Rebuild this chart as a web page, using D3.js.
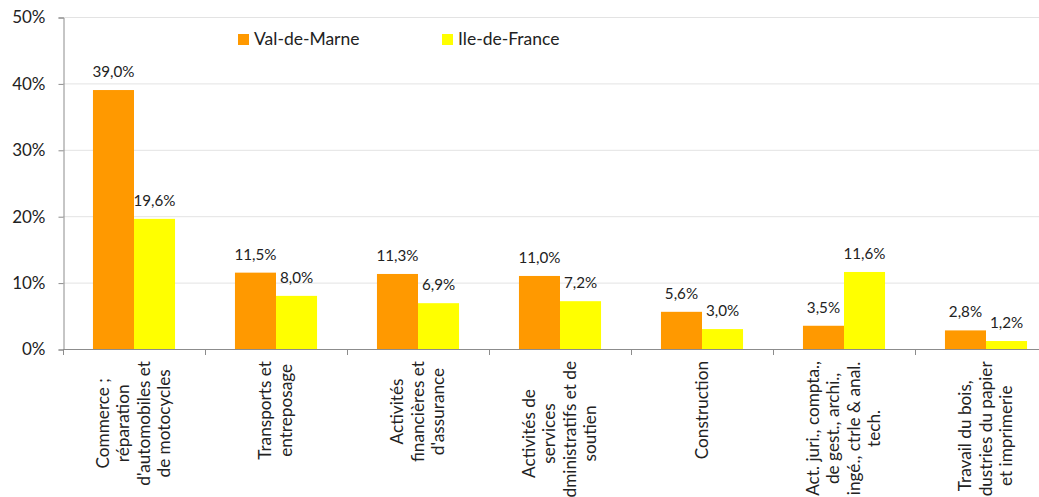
<!DOCTYPE html>
<meta charset="utf-8">
<style>
  body { margin: 0; background: #fff; }
  svg { display: block; font-family: Lato, "Open Sans", sans-serif; }
  text { fill: #222; }
</style>
<body>
<script src="https://cdn.jsdelivr.net/npm/d3@7"></script>
<script>
  var categories = [
    ["Commerce ;", "réparation", "d'automobiles et", "de motocycles"],
    ["Transports et", "entreposage"],
    ["Activités", "financières et", "d'assurance"],
    ["Activités de", "services", "administratifs et de", "soutien"],
    ["Construction"],
    ["Act. juri., compta.,", "de gest., archi.,", "ingé., ctrle & anal.", "tech."],
    ["Travail du bois,", "industries du papier", "et imprimerie"]
  ];
  var seriesNames = ["Val-de-Marne", "Ile-de-France"];
  var valDeMarne = [39.0, 11.5, 11.3, 11.0, 5.6, 3.5, 2.8];
  var ileDeFrance = [19.6, 8.0, 6.9, 7.2, 3.0, 11.6, 1.2];
  var yTicks = [0, 10, 20, 30, 40, 50];
  var colors = ["#ff9900", "#ffff00"];

  var width = 1039, height = 497;
  var plotLeft = 63, plotTop = 17, plotBottom = 349;
  var step = 142;

  var svg = d3.select("body").append("svg")
    .attr("width", width)
    .attr("height", height);

  var x = d3.scaleBand()
    .domain(d3.range(categories.length))
    .range([plotLeft, plotLeft + step * categories.length])
    .padding(0);

  var xs = d3.scaleBand()
    .domain([0, 1])
    .range([0, x.bandwidth()])
    .paddingInner(0)
    .paddingOuter(0.73);

  var y = d3.scaleLinear().domain([0, 50]).range([plotBottom, plotTop]);

  // gridlines
  svg.append("g").selectAll("line")
    .data(yTicks.filter(function(d) { return d > 0; }))
    .join("line")
    .attr("x1", plotLeft).attr("x2", width)
    .attr("y1", function(d) { return y(d) + 0.5; })
    .attr("y2", function(d) { return y(d) + 0.5; })
    .attr("stroke", "#e3e3e3");

  // y axis
  var yAxis = svg.append("g")
    .attr("transform", "translate(" + (plotLeft + 0.5) + ",0.5)")
    .call(d3.axisLeft(y).tickValues(yTicks).tickSize(5).tickPadding(13)
      .tickFormat(function(d) { return d + "%"; }));
  yAxis.select(".domain").attr("stroke", "#8c8c8c");
  yAxis.selectAll(".tick line").attr("stroke", "#8c8c8c");
  yAxis.selectAll(".tick text")
    .attr("font-size", "17px").attr("font-family", "Lato, sans-serif").attr("fill", "#222");

  // bars
  var data = categories.map(function(c, i) { return [valDeMarne[i], ileDeFrance[i]]; });
  var groups = svg.append("g").selectAll("g")
    .data(data)
    .join("g")
    .attr("transform", function(d, i) { return "translate(" + x(i) + ",0)"; });

  groups.selectAll("rect")
    .data(function(d) { return d; })
    .join("rect")
    .attr("x", function(d, j) { return xs(j); })
    .attr("width", xs.bandwidth())
    .attr("y", function(d) { return y(d); })
    .attr("height", function(d) { return plotBottom - y(d); })
    .attr("fill", function(d, j) { return colors[j]; });

  groups.selectAll("text")
    .data(function(d) { return d; })
    .join("text")
    .attr("x", function(d, j) { return xs(j) + xs.bandwidth() / 2; })
    .attr("y", function(d) { return y(d) - 13; })
    .attr("text-anchor", "middle")
    .attr("font-size", "15.2px")
    .text(function(d) { return d.toFixed(1).replace(".", ",") + "%"; });

  // x axis
  var xAxis = svg.append("g");
  xAxis.append("line")
    .attr("x1", plotLeft).attr("x2", width)
    .attr("y1", plotBottom + 0.5).attr("y2", plotBottom + 0.5)
    .attr("stroke", "#8c8c8c");
  xAxis.selectAll("line.tk")
    .data(d3.range(categories.length + 1))
    .join("line")
    .attr("class", "tk")
    .attr("x1", function(i) { return plotLeft + step * i + 0.5; })
    .attr("x2", function(i) { return plotLeft + step * i + 0.5; })
    .attr("y1", plotBottom).attr("y2", plotBottom + 6)
    .attr("stroke", "#8c8c8c");

  // category labels, rotated
  var lineH = 20.5;
  var labels = svg.append("g").selectAll("g")
    .data(categories)
    .join("g")
    .attr("transform", function(d, i) {
      return "translate(" + (x(i) + x.bandwidth() / 2) + "," + (plotBottom + 12) + ") rotate(-90)";
    });
  labels.each(function(lines) {
    var g = d3.select(this);
    var t = g.append("text")
      .attr("font-size", "17.2px")
      .attr("text-anchor", "middle");
    lines.forEach(function(l, k) {
      t.append("tspan")
        .attr("x", 0)
        .attr("y", (k - (lines.length - 1) / 2) * lineH + 5.5)
        .text(l);
    });
    var w = t.node().getBBox().width;
    t.attr("transform", "translate(" + (-w / 2) + ",0)");
  });

  // legend
  var legendX = [238, 442];
  var legend = svg.append("g").selectAll("g")
    .data(seriesNames)
    .join("g")
    .attr("transform", function(d, i) { return "translate(" + legendX[i] + ",34)"; });
  legend.append("rect")
    .attr("width", 11).attr("height", 11)
    .attr("fill", function(d, i) { return colors[i]; });
  legend.append("text")
    .attr("x", 16).attr("y", 11)
    .attr("font-size", "17.5px")
    .text(function(d) { return d; });
</script>
</body>
